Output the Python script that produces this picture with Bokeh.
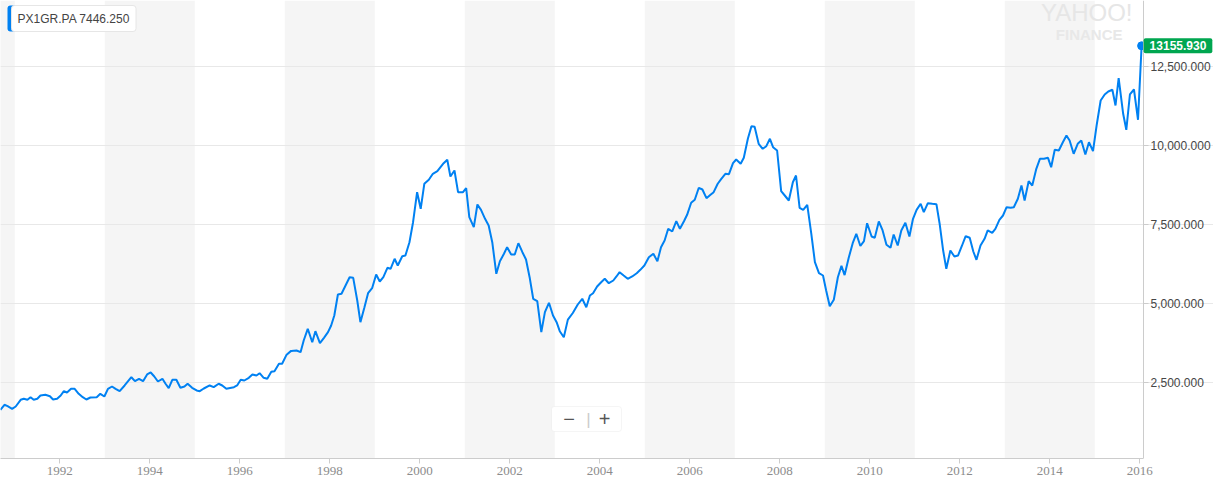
from bokeh.plotting import figure
from bokeh.models import (Range1d, FixedTicker, NumeralTickFormatter, PrintfTickFormatter,
                          BoxAnnotation, Label, LinearAxis)
from bokeh.embed import file_html
from bokeh.resources import INLINE

# ---------------- data ----------------
symbol = "PX1GR.PA"
legend_price = 7446.250

dates = [
    1990.68, 1990.77, 1990.84, 1990.94, 1991.02, 1991.13, 1991.20, 1991.28, 1991.35, 1991.42,
    1991.50, 1991.57, 1991.68, 1991.78, 1991.85, 1991.94, 1992.02, 1992.09, 1992.16, 1992.25,
    1992.33, 1992.42, 1992.51, 1992.59, 1992.68, 1992.82, 1992.90, 1992.99, 1993.07, 1993.16,
    1993.24, 1993.33, 1993.44, 1993.59, 1993.67, 1993.76, 1993.85, 1993.94, 1994.02, 1994.10,
    1994.18, 1994.28, 1994.35, 1994.42, 1994.50, 1994.59, 1994.68, 1994.77, 1994.84, 1994.94,
    1995.04, 1995.11, 1995.20, 1995.33, 1995.42, 1995.53, 1995.61, 1995.70, 1995.87, 1995.94,
    1996.02, 1996.10, 1996.20, 1996.28, 1996.37, 1996.44, 1996.53, 1996.61, 1996.70, 1996.77,
    1996.87, 1996.94, 1997.04, 1997.14, 1997.26, 1997.35, 1997.42, 1997.51, 1997.61, 1997.68,
    1997.78, 1997.87, 1997.96, 1998.03, 1998.10, 1998.18, 1998.26, 1998.35, 1998.44, 1998.52,
    1998.61, 1998.68, 1998.77, 1998.85, 1998.94, 1999.03, 1999.11, 1999.19, 1999.28, 1999.35,
    1999.44, 1999.51, 1999.61, 1999.68, 1999.77, 1999.85, 1999.94, 2000.02, 2000.10, 2000.20,
    2000.29, 2000.39, 2000.46, 2000.53, 2000.61, 2000.68, 2000.77, 2000.85, 2000.96, 2001.03,
    2001.10, 2001.20, 2001.28, 2001.36, 2001.45, 2001.53, 2001.61, 2001.70, 2001.78, 2001.87,
    2001.94, 2002.03, 2002.11, 2002.19, 2002.28, 2002.36, 2002.44, 2002.52, 2002.61, 2002.70,
    2002.78, 2002.87, 2002.96, 2003.04, 2003.11, 2003.20, 2003.29, 2003.40, 2003.51, 2003.61,
    2003.70, 2003.78, 2003.85, 2003.94, 2004.03, 2004.11, 2004.20, 2004.30, 2004.37, 2004.44,
    2004.53, 2004.62, 2004.72, 2004.82, 2004.90, 2004.99, 2005.09, 2005.19, 2005.28, 2005.36,
    2005.44, 2005.52, 2005.61, 2005.70, 2005.78, 2005.87, 2005.94, 2006.03, 2006.11, 2006.20,
    2006.28, 2006.37, 2006.46, 2006.53, 2006.62, 2006.70, 2006.79, 2006.87, 2006.96, 2007.03,
    2007.13, 2007.20, 2007.29, 2007.37, 2007.44, 2007.53, 2007.62, 2007.70, 2007.78, 2007.85,
    2007.94, 2008.03, 2008.11, 2008.20, 2008.29, 2008.36, 2008.44, 2008.52, 2008.61, 2008.70,
    2008.78, 2008.87, 2008.96, 2009.03, 2009.11, 2009.20, 2009.29, 2009.37, 2009.44, 2009.53,
    2009.62, 2009.70, 2009.79, 2009.87, 2009.94, 2010.04, 2010.11, 2010.20, 2010.28, 2010.37,
    2010.46, 2010.53, 2010.62, 2010.70, 2010.79, 2010.88, 2010.96, 2011.04, 2011.13, 2011.20,
    2011.29, 2011.39, 2011.48, 2011.55, 2011.63, 2011.70, 2011.79, 2011.88, 2011.96, 2012.05,
    2012.13, 2012.22, 2012.30, 2012.37, 2012.46, 2012.55, 2012.62, 2012.72, 2012.79, 2012.88,
    2012.96, 2013.04, 2013.13, 2013.20, 2013.29, 2013.37, 2013.44, 2013.53, 2013.61, 2013.70,
    2013.78, 2013.87, 2013.96, 2014.03, 2014.11, 2014.20, 2014.29, 2014.37, 2014.44, 2014.53,
    2014.62, 2014.70, 2014.79, 2014.87, 2014.96, 2015.04, 2015.13, 2015.22, 2015.30, 2015.39,
    2015.46, 2015.53, 2015.63, 2015.70, 2015.78, 2015.87, 2015.96, 2016.04,
]

values = [
    1635, 1794, 1750, 1667, 1740, 1952, 1985, 1952, 2035, 1952,
    1985, 2088, 2110, 2066, 1962, 1985, 2088, 2224, 2183, 2300,
    2300, 2142, 2035, 1962, 2025, 2035, 2142, 2057, 2300, 2373,
    2300, 2224, 2405, 2667, 2541, 2617, 2541, 2753, 2816, 2690,
    2531, 2617, 2459, 2319, 2585, 2585, 2332, 2373, 2459, 2332,
    2247, 2224, 2310, 2405, 2351, 2459, 2405, 2300, 2351, 2405,
    2585, 2563, 2648, 2753, 2721, 2794, 2648, 2617, 2838, 2857,
    3092, 3092, 3380, 3500, 3512, 3459, 3829, 4199, 3775, 4123,
    3744, 3914, 4092, 4304, 4620, 5285, 5307, 5570, 5832, 5813,
    5095, 4408, 4883, 5326, 5484, 5918, 5696, 5832, 6129, 6098,
    6415, 6203, 6497, 6519, 6940, 7573, 8523, 7997, 8789, 8915,
    9105, 9187, 9314, 9440, 9548, 9020, 9210, 8523, 8523, 8649,
    7731, 7415, 8133, 7965, 7681, 7469, 6940, 5940, 6339, 6573,
    6782, 6551, 6551, 6909, 6624, 6393, 5832, 5149, 5073, 4092,
    4725, 5022, 4620, 4408, 4123, 3933, 4490, 4700, 4968, 5149,
    4883, 5253, 5326, 5538, 5674, 5782, 5642, 5728, 5855, 5991,
    5886, 5782, 5855, 5959, 6066, 6203, 6466, 6573, 6339, 6782,
    6994, 7364, 7279, 7605, 7364, 7605, 7807, 8187, 8282, 8662,
    8608, 8333, 8440, 8523, 8789, 8947, 9105, 9092, 9440, 9558,
    9422, 9611, 10213, 10612, 10593, 10055, 9896, 9979, 10213, 9947,
    9842, 8554, 8418, 8260, 8839, 9051, 8029, 7965, 8124, 7206,
    6307, 5959, 5886, 5411, 4915, 5117, 5832, 6190, 5900, 6440,
    6910, 7206, 6820, 6972, 7541, 7121, 7080, 7595, 7332, 6858,
    6763, 7184, 6836, 7311, 7554, 7121, 7681, 7965, 8155, 7890,
    8175, 8155, 8143, 7541, 6677, 6098, 6677, 6488, 6519, 6836,
    7130, 7080, 6646, 6383, 6836, 7048, 7311, 7238, 7364, 7649,
    7785, 8048, 8029, 8048, 8314, 8735, 8260, 8871, 8735, 9263,
    9580, 9580, 9611, 9314, 9864, 9842, 10105, 10317, 10159, 9738,
    10055, 10159, 9716, 10105, 9820, 10634, 11425, 11615, 11710, 11764,
    11267, 12131, 11004, 10498, 11615, 11773, 10814, 13155.930,
]

band_starts = [1989, 1993, 1997, 2001, 2005, 2009, 2013]
x_ticks = [1992, 1994, 1996, 1998, 2000, 2002, 2004, 2006, 2008, 2010, 2012, 2014, 2016]
y_ticks = [2500, 5000, 7500, 10000, 12500]

# ---------------- figure ----------------
X0, XA = 1990.682, 2016.082          # plot start / position of the price axis
PX_PER_YEAR = 1143 / (XA - X0)
X1 = X0 + 1213 / PX_PER_YEAR         # canvas right edge (room for price labels)
Y0, Y1 = 94, 14590
FRAME_H = 458
BLUE = "#0081f2"


def px_x(px):
    return X0 + px / PX_PER_YEAR


def px_y(py):
    return Y1 - py * (Y1 - Y0) / FRAME_H


p = figure(width=1213, height=488, output_backend="svg", toolbar_location=None,
           x_range=Range1d(X0, X1), y_range=Range1d(Y0, Y1),
           y_axis_location=None,
           min_border_left=0, min_border_top=0, min_border_right=0, min_border_bottom=30)
p.outline_line_color = None
p.background_fill_color = "white"
p.border_fill_color = "white"

for s in band_starts:
    p.add_layout(BoxAnnotation(left=s, right=s + 2, fill_color="#f5f5f5", fill_alpha=1.0,
                               line_color=None, level="image"))

yticker = FixedTicker(ticks=y_ticks)

p.xgrid.grid_line_color = None
yg = p.ygrid[0]
yg.ticker = yticker
yg.bounds = (X0, XA)
yg.grid_line_color = "#e8e8e8"

xa = p.xaxis[0]
xa.ticker = FixedTicker(ticks=x_ticks)
xa.formatter = PrintfTickFormatter(format="%d")
xa.bounds = (X0, XA)
xa.axis_line_color = "#cccccc"
xa.major_tick_line_color = "#cccccc"
xa.major_tick_out = 5
xa.major_tick_in = 0
xa.minor_tick_line_color = None
xa.major_label_text_font = "Liberation Serif"
xa.major_label_text_font_size = "13px"
xa.major_label_text_color = "#8c8c8c"
xa.major_label_standoff = 3

ya = LinearAxis(fixed_location=XA, ticker=yticker,
                formatter=NumeralTickFormatter(format="0,0.000"))
ya.axis_line_color = "#cccccc"
ya.major_tick_line_color = "#cccccc"
ya.major_tick_out = 5
ya.major_tick_in = 0
ya.minor_tick_line_color = None
ya.major_label_text_font = "Liberation Sans"
ya.major_label_text_font_size = "12px"
ya.major_label_text_color = "#464646"
ya.major_label_standoff = 2
p.add_layout(ya, "right")

p.line(dates, values, line_color=BLUE, line_width=2)
p.scatter([dates[-1]], [values[-1]], size=8, fill_color=BLUE, line_color=BLUE)

# last value tag
p.add_layout(Label(x=dates[-1], y=values[-1], text=f"{values[-1]:.3f}", x_offset=2,
                   anchor="center_left", text_align="left", text_baseline="middle",
                   text_font="Liberation Sans", text_font_style="bold", text_font_size="12px",
                   text_color="white", background_fill_color="#00a650",
                   padding=(6, 3), border_radius=2))

# legend chip (blue bar + white box)
p.add_layout(Label(x=X0, y=Y1, text="PX", x_offset=7, y_offset=-5, anchor="top_left",
                   text_font="Liberation Sans", text_font_size="12px", text_color=BLUE,
                   background_fill_color=BLUE, padding=6, border_radius=3))
p.add_layout(Label(x=X0, y=Y1, text=f"{symbol} {legend_price:.3f}", x_offset=11, y_offset=-5,
                   anchor="top_left", text_font="Liberation Sans", text_font_size="12px",
                   text_color="#444444", background_fill_color="white",
                   border_line_color="#e6e6e6", padding=6, border_radius=3))

# watermark
p.add_layout(Label(x=px_x(1132), y=Y1, text="YAHOO!", y_offset=2, anchor="top_right",
                   text_align="right", text_font="Liberation Sans", text_font_size="24px",
                   text_color="#e6e6e6"))
p.add_layout(Label(x=px_x(1122), y=Y1, text="FINANCE", y_offset=-25, anchor="top_right",
                   text_align="right", text_font="Liberation Sans", text_font_style="bold",
                   text_font_size="15px", text_color="#e8e8e8"))

# zoom control
p.add_layout(BoxAnnotation(left=px_x(551), right=px_x(621), top=px_y(406), bottom=px_y(431),
                           fill_color="white", fill_alpha=1.0, line_color="#dedede",
                           border_radius=3))
p.add_layout(Label(x=px_x(568.5), y=px_y(418.5), text="\u2212", anchor="center",
                   text_align="center", text_baseline="middle", text_font="Liberation Sans",
                   text_font_size="20px", text_color="#555555"))
p.add_layout(Label(x=px_x(604), y=px_y(418.5), text="+", anchor="center",
                   text_align="center", text_baseline="middle", text_font="Liberation Sans",
                   text_font_size="20px", text_color="#555555"))
p.add_layout(Label(x=px_x(588), y=px_y(418.5), text="|", anchor="center",
                   text_align="center", text_baseline="middle", text_font="Liberation Sans",
                   text_font_size="17px", text_color="#cccccc"))

open("out.html", "w").write(file_html(p, INLINE))
